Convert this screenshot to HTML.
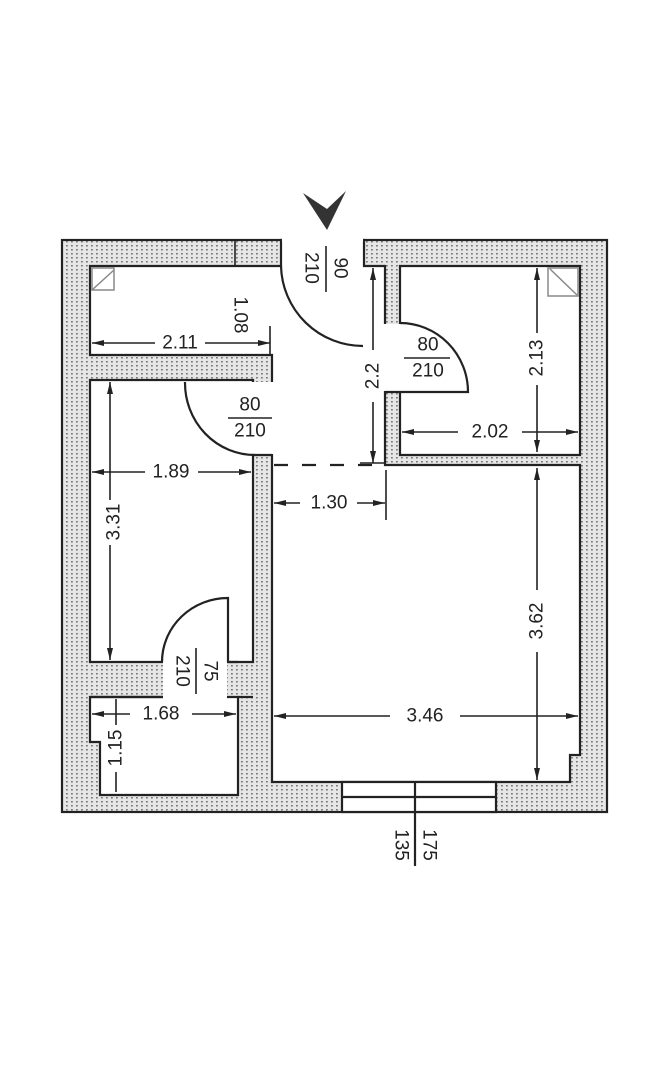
<!DOCTYPE html>
<html><head><meta charset="utf-8"><style>
html,body{margin:0;padding:0;background:#fff;}
svg{display:block;}
text{font-family:"Liberation Sans",sans-serif;font-size:19px;fill:#222;}
</style></head><body>
<svg width="659" height="1080" viewBox="0 0 659 1080" xmlns="http://www.w3.org/2000/svg">
<defs>
<pattern id="dots" width="5" height="4" patternUnits="userSpaceOnUse">
<rect width="5" height="4" fill="#e6e6e6"/>
<rect x="1" y="1" width="1.8" height="1.5" fill="#777"/>
</pattern>
</defs>
<g stroke="#222" stroke-width="2.2">
<rect x="62" y="240" width="545" height="572" fill="url(#dots)"/>
<polygon fill="#fff" points="90,266 281,266 281,240 364,240 364,266 385,266 385,465 580,465 580,755 570,755 570,782 272,782 272,380 272,355 90,355"/>
<polygon fill="#fff" points="90,380 253,380 253,662 90,662"/>
<polygon fill="#fff" points="400,266 580,266 580,455 400,455"/>
<polygon fill="#fff" points="90,697 238,697 238,795 100,795 100,742 90,742"/>
</g>
<rect x="282" y="236" width="81" height="6" fill="#fff"/>
<rect x="251" y="382" width="23" height="72" fill="#fff"/>
<rect x="383" y="324" width="19" height="67" fill="#fff"/>
<rect x="163" y="660" width="64" height="39" fill="#fff"/>
<g stroke="#222" stroke-width="2.2" fill="none">
<line x1="272" y1="455" x2="253" y2="455"/>
<line x1="228" y1="662" x2="238" y2="662"/>
<line x1="163" y1="697" x2="90" y2="697"/>
<line x1="253" y1="697" x2="238" y2="697"/>
<path d="M281,266 A82,82 0 0 0 363,346"/>
<path d="M185,382 A70,72 0 0 0 255,455"/>
<path d="M400,323 A68,69 0 0 1 468,392 L385,392"/>
<path d="M228,662 L228,598 A66,64 0 0 0 162,662"/>
<rect x="342" y="782" width="154" height="30" fill="#fff"/>
<line x1="342" y1="797" x2="496" y2="797"/>
<line x1="415" y1="782" x2="415" y2="866"/>
<rect x="92" y="268" width="22" height="22" stroke="#888" stroke-width="1.5"/>
<line x1="92" y1="290" x2="114" y2="270" stroke="#888" stroke-width="1.5"/>
<rect x="548" y="268" width="30" height="28" stroke="#888" stroke-width="1.5"/>
<line x1="550" y1="269" x2="577" y2="295" stroke="#888" stroke-width="1.5"/>
<line x1="274" y1="465" x2="385" y2="465" stroke-dasharray="14,14"/>
</g>
<g stroke="#222" stroke-width="1.6" fill="none">
<line x1="92" y1="343" x2="155" y2="343"/><line x1="205" y1="343" x2="270" y2="343"/><line x1="270" y1="326" x2="270" y2="356"/>
<line x1="235" y1="240" x2="235" y2="266"/>
<line x1="92" y1="472" x2="145" y2="472"/><line x1="198" y1="472" x2="251" y2="472"/><line x1="110" y1="382" x2="110" y2="500"/><line x1="110" y1="545" x2="110" y2="660"/>
<line x1="274" y1="503" x2="300" y2="503"/><line x1="357" y1="503" x2="385" y2="503"/><line x1="386" y1="470" x2="386" y2="520"/>
<line x1="373" y1="268" x2="373" y2="350"/><line x1="373" y1="402" x2="373" y2="463"/><line x1="360" y1="463" x2="386" y2="463"/>
<line x1="402" y1="432" x2="458" y2="432"/><line x1="522" y1="432" x2="578" y2="432"/>
<line x1="537" y1="268" x2="537" y2="333"/><line x1="537" y1="385" x2="537" y2="452"/>
<line x1="537" y1="468" x2="537" y2="590"/><line x1="537" y1="652" x2="537" y2="780"/>
<line x1="274" y1="716" x2="390" y2="716"/><line x1="460" y1="716" x2="578" y2="716"/>
<line x1="92" y1="714" x2="130" y2="714"/><line x1="192" y1="714" x2="236" y2="714"/>
<line x1="116" y1="699" x2="116" y2="725"/><line x1="116" y1="772" x2="116" y2="792"/>
<line x1="228" y1="418" x2="272" y2="418"/>
<line x1="404" y1="358" x2="450" y2="358"/>
<line x1="326" y1="246" x2="326" y2="292"/>
<line x1="196" y1="648" x2="196" y2="694"/>
<line x1="415" y1="822" x2="415" y2="866"/>
</g>
<g fill="#222">
<polygon points="92,343 104,340 104,346"/><polygon points="270,343 258,340 258,346"/>
<polygon points="92,472 104,469 104,475"/><polygon points="251,472 239,469 239,475"/>
<polygon points="110,382 107,394 113,394"/><polygon points="110,660 107,648 113,648"/>
<polygon points="274,503 286,500 286,506"/><polygon points="385,503 373,500 373,506"/>
<polygon points="373,268 370,280 376,280"/><polygon points="373,463 370,451 376,451"/>
<polygon points="402,432 414,429 414,435"/><polygon points="578,432 566,429 566,435"/>
<polygon points="537,268 534,280 540,280"/><polygon points="537,452 534,440 540,440"/>
<polygon points="537,468 534,480 540,480"/><polygon points="537,780 534,768 540,768"/>
<polygon points="274,716 286,713 286,719"/><polygon points="578,716 566,713 566,719"/>
<polygon points="92,714 104,711 104,717"/><polygon points="236,714 224,711 224,717"/>
<polygon points="303,193 327,209 346,191 327,230" fill="#333"/>
</g>
<g text-anchor="middle" dominant-baseline="central">
<text x="180" y="343">2.11</text>
<text transform="translate(240,315) rotate(90)">1.08</text>
<text x="171" y="472">1.89</text>
<text transform="translate(114,522) rotate(-90)">3.31</text>
<text x="329" y="503">1.30</text>
<text transform="translate(373,376) rotate(-90)">2.2</text>
<text x="490" y="432">2.02</text>
<text transform="translate(537,358) rotate(-90)">2.13</text>
<text transform="translate(537,621) rotate(-90)">3.62</text>
<text x="425" y="716">3.46</text>
<text x="161" y="714">1.68</text>
<text transform="translate(116,748) rotate(-90)">1.15</text>
<text x="250" y="405">80</text><text x="250" y="431">210</text>
<text x="428" y="345">80</text><text x="428" y="371">210</text>
<text transform="translate(340,268) rotate(90)">90</text>
<text transform="translate(311,268) rotate(90)">210</text>
<text transform="translate(210,671) rotate(90)">75</text>
<text transform="translate(182,671) rotate(90)">210</text>
<text transform="translate(429,845) rotate(90)">175</text>
<text transform="translate(401,845) rotate(90)">135</text>
</g>
</svg>
</body></html>
